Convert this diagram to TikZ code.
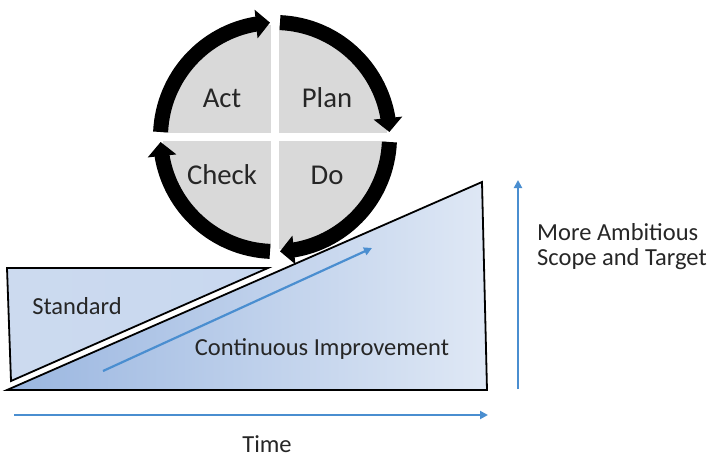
\documentclass[tikz,border=0pt]{standalone}
\usepackage{fontspec}
\setmainfont{Carlito}
\usetikzlibrary{arrows.meta,bending}
\definecolor{quadgray}{HTML}{D9D9D9}
\definecolor{txt}{HTML}{262626}
\definecolor{arrblue}{HTML}{4A8ED0}
\definecolor{stdL}{HTML}{CCDAEF}
\definecolor{stdM}{HTML}{A0BBE2}
\definecolor{stdR}{HTML}{C8D8EF}
\definecolor{ciL}{HTML}{9AB6E0}
\definecolor{ciR}{HTML}{DFE8F5}
\begin{document}
\begin{tikzpicture}[x=1pt,y=-1pt,
  ringarc/.style={line width=15pt, -{Triangle[width=28pt,length=14pt,flex]}},
  lbl/.style={font=\fontsize{28.7}{34}\selectfont, text=txt, anchor=base, inner sep=0pt},
  txtmid/.style={font=\fontsize{24.5}{25}\selectfont, text=txt, inner sep=0pt},
  bluearrow/.style={draw=arrblue, line width=2.2pt, -{Triangle[width=8pt,length=8pt]}},
  outline/.style={draw=black, line width=1.8pt, line join=miter}
]
\useasboundingbox (0,0) rectangle (713,458);
% shapes
\draw[outline, left color=ciL, right color=ciR] (7,390) -- (482,182) -- (487,390) -- cycle;
\draw[outline, left color=stdL, middle color=stdM, right color=stdR] (7,268) -- (268,268) -- (11,381) -- cycle;
% PDCA circle
\coordinate (C) at (275,137);
\fill[quadgray] (C) circle[radius=112];
\draw[white, line width=8pt] ([xshift=-120pt]C) -- ([xshift=120pt]C);
\draw[white, line width=8pt] ([yshift=-120pt]C) -- ([yshift=120pt]C);
\draw[ringarc] (C) ++(-87.5:114.5) arc[start angle=-87.5, end angle=-2.5, radius=114.5];
\draw[ringarc] (C) ++(2.5:114.5) arc[start angle=2.5, end angle=87.5, radius=114.5];
\draw[ringarc] (C) ++(92.5:114.5) arc[start angle=92.5, end angle=177.5, radius=114.5];
\draw[ringarc] (C) ++(182.5:114.5) arc[start angle=182.5, end angle=267.5, radius=114.5];
\node[lbl] (act) at (222,107) {Act};
\node[lbl] (plan) at (327,107) {Plan};
\node[lbl] (check) at (222,184) {Check};
\node[lbl] (do) at (327,184) {Do};
% labels
\node[txtmid, anchor=base] (std) at (77,314) {Standard};
\node[txtmid, anchor=base] (ci) at (322,355) {Continuous Improvement};
\node[txtmid, anchor=base] (time) at (267,452) {Time};
\node[txtmid, anchor=base west, align=left] (scope) at (537,265) {More Ambitious\\Scope and Target};
% blue arrows
\coordinate (a0) at (103,371);
\coordinate (a1) at (372,248);
\draw[bluearrow] (a0) -- (a1);
\coordinate (t0) at (14,415);
\coordinate (t1) at (488,415);
\draw[bluearrow] (t0) -- (t1);
\coordinate (v0) at (518,389);
\coordinate (v1) at (518,180);
\draw[bluearrow] (v0) -- (v1);
\end{tikzpicture}
\end{document}
